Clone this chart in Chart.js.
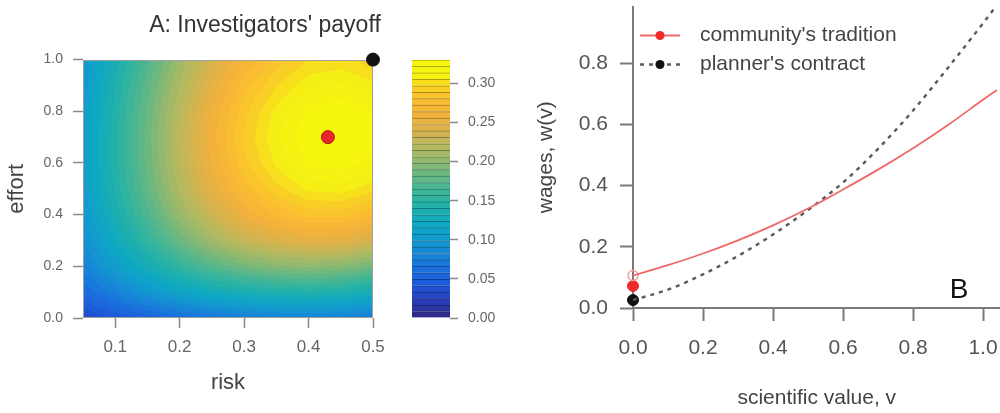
<!DOCTYPE html>
<html>
<head>
<meta charset="utf-8">
<script src="https://cdn.jsdelivr.net/npm/chart.js@4.4.1/dist/chart.umd.min.js"></script>
<style>
html, body { margin:0; padding:0; background:#fff; }
#wrap { position:relative; width:1000px; height:413px; overflow:hidden; }
#wrap canvas { position:absolute; top:0; }
#payoff { left:0; }
#scale  { left:400px; }
#wages  { left:530px; }
</style>
</head>
<body>
<div id="wrap">
  <canvas id="payoff" width="530" height="413"></canvas>
  <canvas id="scale" width="130" height="413"></canvas>
  <canvas id="wages" width="477" height="413"></canvas>
</div>
<script>
// panel A: payoff (rows = effort, columns = risk)
const riskGrid   = [0.05, 0.10, 0.15, 0.20, 0.25, 0.30, 0.35, 0.40, 0.45, 0.50];
const effortGrid = [0.0, 0.1, 0.2, 0.3, 0.4, 0.5, 0.6, 0.7, 0.8, 0.9, 1.0];
const payoffRows = [
    [.031,.041,.051,.060,.067,.073,.076,.077,.076,.072],
    [.058,.077,.096,.113,.126,.135,.140,.142,.139,.130],
    [.078,.105,.130,.154,.173,.187,.196,.199,.196,.186],
    [.090,.123,.154,.184,.209,.229,.241,.249,.248,.238],
    [.099,.135,.170,.204,.233,.257,.273,.283,.283,.274],
    [.103,.142,.180,.217,.249,.275,.294,.307,.309,.300],
    [.105,.145,.184,.223,.257,.286,.307,.322,.326,.318],
    [.105,.145,.185,.225,.260,.290,.312,.328,.333,.326],
    [.104,.144,.183,.222,.257,.286,.308,.323,.328,.321],
    [.101,.140,.178,.216,.249,.277,.297,.311,.315,.308],
    [.098,.135,.171,.207,.239,.265,.283,.297,.300,.292]
];
const riskTicks   = [0.1, 0.2, 0.3, 0.4, 0.5];
const effortTicks = [0.0, 0.2, 0.4, 0.6, 0.8, 1.0];
const optimumRisk = [0.43], optimumEffort = [0.70];
const contractRisk = [0.5], contractEffort = [1.0];

// contour levels and colour key
const levelEdges = [0,.00825,.0165,.02475,.033,.04125,.0495,.05775,.066,.07425,.0825,.09075,.099,.10725,
    .1155,.12375,.132,.14025,.1485,.15675,.165,.17325,.1815,.18975,.198,.20625,.2145,.22275,.231,.23925,
    .2475,.25575,.264,.27225,.2805,.28875,.297,.30525,.3135,.32175,.33];
const keyTicks   = [0.00, 0.05, 0.10, 0.15, 0.20, 0.25, 0.30];
const rampValues = [0, .02, .04, .06, .08, .10, .12, .14, .16, .18, .20, .22, .24, .26, .28, .295, .308, .33];
const rampColors = ['#2d2a7d','#2a3cb5','#1f55d6','#1b6ddc','#1884d8','#139acf','#0fa8c2','#1eb0ad','#3bb59a',
    '#62b785','#8eb970','#b6b95f','#d9b34c','#f2b23c','#fbbe30','#f9d226','#f5ee16','#f8f80c'];

// panel B: wage schedules
const valueV     = [0, 0.1, 0.2, 0.3, 0.4, 0.5, 0.6, 0.7, 0.8, 0.9, 1.0, 1.04];
const traditionW = [0.106, 0.140, 0.178, 0.221, 0.270, 0.325, 0.387, 0.452, 0.522, 0.598, 0.680, 0.712];
const contractW  = [0.026, 0.060, 0.110, 0.170, 0.240, 0.320, 0.410, 0.520, 0.645, 0.785, 0.930, 0.990];
const startV = [0, 0, 0];
const startW = [0.106, 0.072, 0.026];
const wageTicksX = [0.0, 0.2, 0.4, 0.6, 0.8, 1.0];
const wageTicksY = [0.0, 0.2, 0.4, 0.6, 0.8];
const keyLabels = ["community's tradition", "planner's contract"];

Chart.defaults.font.family = "'Liberation Sans', Arial, sans-serif";
Chart.defaults.animation = false;

function hexRgb(h) { return [1,3,5].map(i => parseInt(h.slice(i, i+2), 16)); }
function rampColor(v) {
    let k = 0;
    while (k < rampValues.length - 2 && v > rampValues[k+1]) k++;
    const t = Math.min(1, Math.max(0, (v - rampValues[k]) / (rampValues[k+1] - rampValues[k])));
    const a = hexRgb(rampColors[k]), b = hexRgb(rampColors[k+1]);
    return a.map((c, i) => Math.round(c + (b[i] - c) * t));
}
const bandColors = levelEdges.slice(0, -1).map((lo, k) => rampColor((lo + levelEdges[k+1]) / 2));
const cssRgb = (c, f = 1) => `rgb(${Math.round(c[0]*f)},${Math.round(c[1]*f)},${Math.round(c[2]*f)})`;

function bandOf(v) {
    let k = 0;
    while (k < bandColors.length - 1 && v >= levelEdges[k+1]) k++;
    return k;
}
function gridPos(arr, v) {
    const n = arr.length - 1;
    if (v <= arr[0]) return [0, 0];
    if (v >= arr[n]) return [n - 1, 1];
    let i = 0;
    while (arr[i+1] < v) i++;
    return [i, (v - arr[i]) / (arr[i+1] - arr[i])];
}
function payoffAt(r, e) {
    const [i, fx] = gridPos(riskGrid, r), [j, fy] = gridPos(effortGrid, e);
    const lo = payoffRows[j][i] * (1 - fx) + payoffRows[j][i+1] * fx;
    const hi = payoffRows[j+1][i] * (1 - fx) + payoffRows[j+1][i+1] * fx;
    return lo * (1 - fy) + hi * fy;
}

// filled contour painted through the chart's own scales
const heatLayer = {
    id: 'heatLayer',
    beforeDatasetsDraw(chart) {
        const { ctx, chartArea: a, scales: { x, y } } = chart;
        const w = Math.round(a.right - a.left), h = Math.round(a.bottom - a.top);
        const img = ctx.createImageData(w, h);
        for (let py = 0; py < h; py++) {
            const e = y.getValueForPixel(a.top + py + 0.5);
            for (let px = 0; px < w; px++) {
                const c = bandColors[bandOf(payoffAt(x.getValueForPixel(a.left + px + 0.5), e))];
                const o = (py * w + px) * 4;
                img.data[o] = c[0]; img.data[o+1] = c[1]; img.data[o+2] = c[2]; img.data[o+3] = 255;
            }
        }
        ctx.putImageData(img, Math.round(a.left), Math.round(a.top));
        ctx.save();
        ctx.strokeStyle = '#a0a0a0'; ctx.lineWidth = 1;
        ctx.strokeRect(Math.round(a.left) + 0.5, Math.round(a.top) + 0.5, w - 1, h - 1);
        ctx.restore();
    }
};

const tickGrid = (len, col, wd) => ({ display:true, drawOnChartArea:false, drawTicks:true, tickLength:len, tickColor:col, tickWidth:wd });
const noPad = s => { s.paddingLeft = 0; s.paddingRight = 0; s.paddingTop = 0; s.paddingBottom = 0; };

new Chart(document.getElementById('payoff'), {
    type: 'scatter',
    data: { datasets: [
        { label:'tradition optimum', data: optimumRisk.map((r, i) => ({ x:r, y:optimumEffort[i] })),
          pointRadius:6.5, pointBackgroundColor:'#e8262c', pointBorderColor:'#a81c1c', pointBorderWidth:1, clip:false },
        { label:'contract optimum', data: contractRisk.map((r, i) => ({ x:r, y:contractEffort[i] })),
          pointRadius:6.5, pointBackgroundColor:'#111', pointBorderColor:'#111', clip:false }
    ] },
    options: {
        responsive:false, devicePixelRatio:1,
        layout: { padding:0 },
        plugins: {
            legend: { display:false }, tooltip: { enabled:false },
            title: { display:true, text:"A: Investigators' payoff", color:'#333',
                     font:{ size:23, weight:'normal' }, padding:{ top:12, bottom:20 } }
        },
        scales: {
            x: { type:'linear', min:0.05, max:0.5,
                 afterBuildTicks: s => { s.ticks = riskTicks.map(v => ({ value:v })); },
                 afterFit: s => { s.height = 95; noPad(s); },
                 grid: tickGrid(10, '#8a8a8a', 1.5), border:{ display:false },
                 ticks: { padding:9, color:'#666', font:{ size:17 }, callback: v => v.toFixed(1) },
                 title: { display:true, text:'risk', color:'#444', font:{ size:22 }, padding:{ top:0, bottom:17 } } },
            y: { type:'linear', min:0, max:1,
                 afterBuildTicks: s => { s.ticks = effortTicks.map(v => ({ value:v })); },
                 afterFit: s => { s.width = 83; noPad(s); },
                 grid: tickGrid(10, '#8a8a8a', 1.5), border:{ display:false },
                 ticks: { padding:10, color:'#666', font:{ size:14 }, callback: v => v.toFixed(1) },
                 title: { display:true, text:'effort', color:'#444', font:{ size:22 }, padding:{ top:4, bottom:0 } } },
            y2: { type:'linear', position:'right', min:0, max:1,
                  afterFit: s => { s.width = 157; noPad(s); },
                  grid:{ display:false }, ticks:{ display:false }, border:{ display:false } }
        }
    },
    plugins: [heatLayer]
});

// colour key: one floating bar per contour band
new Chart(document.getElementById('scale'), {
    type: 'bar',
    data: {
        labels: ['payoff'],
        datasets: bandColors.map((c, k) => ({
            label: 'band ' + k, data: [[levelEdges[k], levelEdges[k+1]]],
            backgroundColor: cssRgb(c), borderColor: cssRgb(c, 0.7),
            borderWidth:{ top:1, bottom:0, left:0, right:0 }, borderSkipped:false,
            barPercentage:1, categoryPercentage:1, grouped:false
        }))
    },
    options: {
        responsive:false, devicePixelRatio:1,
        layout: { padding:{ left:12, top:60, bottom:95, right:0 } },
        plugins: { legend:{ display:false }, tooltip:{ enabled:false } },
        scales: {
            x: { display:false },
            y: { position:'right', min:0, max:0.33,
                 afterBuildTicks: s => { s.ticks = keyTicks.map(v => ({ value:v })); },
                 afterFit: s => { s.width = 80; noPad(s); },
                 grid: tickGrid(8, '#8a8a8a', 1.5), border:{ display:false },
                 ticks: { padding:10, color:'#666', font:{ size:14 }, callback: v => v.toFixed(2) } }
        }
    }
});

const wageKey = {
    id: 'wageKey',
    afterDatasetsDraw(chart) {
        const { ctx, chartArea: a } = chart;
        keyLabels.forEach((txt, k) => {
            const ds = chart.data.datasets[k];
            const y = a.top + 29 + k * 29, x0 = a.left + 7;
            ctx.save();
            ctx.strokeStyle = ds.borderColor; ctx.lineWidth = ds.borderWidth;
            ctx.setLineDash(ds.borderDash || []);
            ctx.beginPath(); ctx.moveTo(x0, y); ctx.lineTo(x0 + 40, y); ctx.stroke();
            ctx.setLineDash([]);
            ctx.fillStyle = k === 0 ? '#ee2a2a' : '#111';
            ctx.beginPath(); ctx.arc(x0 + 20, y, 4.5, 0, Math.PI * 2); ctx.fill();
            ctx.fillStyle = '#444'; ctx.font = "21px 'Liberation Sans', Arial, sans-serif";
            ctx.textAlign = 'left'; ctx.textBaseline = 'middle';
            ctx.fillText(txt, x0 + 60, y);
            ctx.restore();
        });
        ctx.save();
        ctx.fillStyle = '#111'; ctx.font = "28px 'Liberation Sans', Arial, sans-serif";
        ctx.textAlign = 'center'; ctx.textBaseline = 'middle';
        ctx.fillText('B', a.left + 326, a.bottom - 18);
        ctx.restore();
    }
};

new Chart(document.getElementById('wages'), {
    type: 'line',
    data: { datasets: [
        { label:keyLabels[0], data: valueV.map((v, i) => ({ x:v, y:traditionW[i] })),
          borderColor:'#f06868', borderWidth:1.8, pointRadius:0, cubicInterpolationMode:'monotone' },
        { label:keyLabels[1], data: valueV.map((v, i) => ({ x:v, y:contractW[i] })),
          borderColor:'#5a5a5a', borderWidth:2.4, borderDash:[4, 5], pointRadius:0, cubicInterpolationMode:'monotone' },
        { label:'tradition start (open)', data:[{ x:startV[0], y:startW[0] }], showLine:false, clip:false,
          pointRadius:5, pointBackgroundColor:'rgba(255,255,255,0)', pointBorderColor:'#f4a0a0', pointBorderWidth:1.5 },
        { label:'tradition start', data:[{ x:startV[1], y:startW[1] }], showLine:false, clip:false,
          pointRadius:5.5, pointBackgroundColor:'#ee2a2a', pointBorderColor:'#ee2a2a' },
        { label:'contract start', data:[{ x:startV[2], y:startW[2] }], showLine:false, clip:false,
          pointRadius:5.5, pointBackgroundColor:'#111', pointBorderColor:'#111' }
    ] },
    options: {
        responsive:false, devicePixelRatio:1,
        layout: { padding:{ top:3, right:0, left:0, bottom:0 } },
        plugins: { legend:{ display:false }, tooltip:{ enabled:false } },
        scales: {
            x: { type:'linear', min:0, max:1.05,
                 afterBuildTicks: s => { s.ticks = wageTicksX.map(v => ({ value:v })); },
                 afterFit: s => { s.height = 105; noPad(s); },
                 grid: tickGrid(13, '#7a7a7a', 2), border:{ display:true, color:'#7a7a7a', width:2 },
                 ticks: { padding:15, color:'#555', font:{ size:21 }, callback: v => v.toFixed(1) },
                 title: { display:true, text:'scientific value, v', color:'#444', font:{ size:21 }, padding:{ top:0, bottom:2 } } },
            y: { type:'linear', min:0, max:0.985,
                 afterBuildTicks: s => { s.ticks = wageTicksY.map(v => ({ value:v })); },
                 afterFit: s => { s.width = 103; noPad(s); },
                 grid: tickGrid(13, '#7a7a7a', 2), border:{ display:true, color:'#7a7a7a', width:2 },
                 ticks: { padding:12, color:'#555', font:{ size:21 }, callback: v => v.toFixed(1) },
                 title: { display:true, text:'wages, w(v)', color:'#444', font:{ size:21 }, padding:{ top:4, bottom:0 } } }
        }
    },
    plugins: [wageKey]
});
</script>
</body>
</html>
